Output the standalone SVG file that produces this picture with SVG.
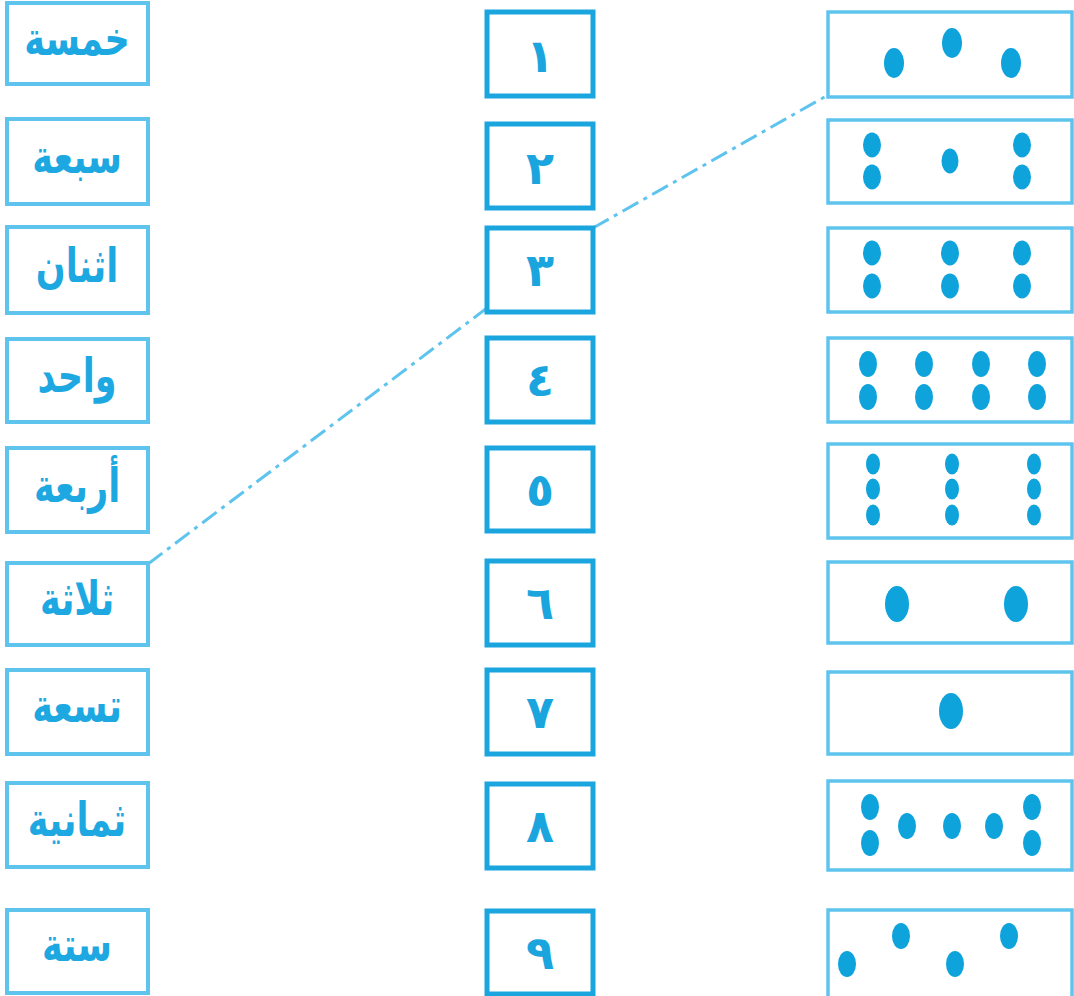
<svg xmlns="http://www.w3.org/2000/svg" width="1074" height="996" viewBox="0 0 1074 996">
<style>
.lb{fill:#fff;stroke:#5ec4ee;stroke-width:4}
.mb{fill:#fff;stroke:#1ba5de;stroke-width:5}
.rb{fill:#fff;stroke:#5ec4ee;stroke-width:3.5}
.w{font-family:"DejaVu Sans",sans-serif;font-weight:bold;font-size:35px;fill:#1ea8e2;text-anchor:middle;dominant-baseline:central}
.n{font-family:"DejaVu Sans",sans-serif;font-weight:bold;font-size:46px;fill:#1ba5de;text-anchor:middle;dominant-baseline:central}
.d{fill:#0fa3dc}
.c{fill:none;stroke:#5ec4ee;stroke-width:3;stroke-dasharray:18 6 4 6}
</style>
<rect width="1074" height="996" fill="#fff"/>
<g id="connectors">
<line class="c" x1="593" y1="228" x2="828" y2="95"/>
<line class="c" x1="148" y1="564" x2="487" y2="308"/>
</g>
<g id="w1"><rect class="lb" x="7" y="3" width="141" height="81"/><text class="w" transform="translate(77,39) scale(1,1.35)">خمسة</text></g>
<g id="w2"><rect class="lb" x="7" y="119" width="141" height="85"/><text class="w" transform="translate(77,157) scale(1,1.35)">سبعة</text></g>
<g id="w3"><rect class="lb" x="7" y="227" width="141" height="86"/><text class="w" transform="translate(77,266) scale(1,1.35)">اثنان</text></g>
<g id="w4"><rect class="lb" x="7" y="339" width="141" height="83"/><text class="w" transform="translate(77,376) scale(1,1.35)">واحد</text></g>
<g id="w5"><rect class="lb" x="7" y="448" width="141" height="84"/><text class="w" transform="translate(77,486) scale(1,1.35)">أربعة</text></g>
<g id="w6"><rect class="lb" x="7" y="563" width="141" height="82"/><text class="w" transform="translate(77,599) scale(1,1.35)">ثلاثة</text></g>
<g id="w7"><rect class="lb" x="7" y="670" width="141" height="84"/><text class="w" transform="translate(77,706) scale(1,1.35)">تسعة</text></g>
<g id="w8"><rect class="lb" x="7" y="783" width="141" height="84"/><text class="w" transform="translate(77,820) scale(1,1.35)">ثمانية</text></g>
<g id="w9"><rect class="lb" x="7" y="910" width="141" height="83"/><text class="w" transform="translate(77,945) scale(1,1.35)">ستة</text></g>

<g id="n1"><rect class="mb" x="487" y="12" width="106" height="84"/><text class="n" x="540" y="56">١</text></g>
<g id="n2"><rect class="mb" x="487" y="124" width="106" height="84"/><text class="n" x="540" y="168">٢</text></g>
<g id="n3"><rect class="mb" x="487" y="228" width="106" height="84"/><text class="n" x="540" y="270">٣</text></g>
<g id="n4"><rect class="mb" x="487" y="338" width="106" height="84"/><text class="n" x="540" y="380">٤</text></g>
<g id="n5"><rect class="mb" x="487" y="448" width="106" height="83"/><text class="n" x="540" y="490">٥</text></g>
<g id="n6"><rect class="mb" x="487" y="561" width="106" height="84"/><text class="n" x="540" y="603">٦</text></g>
<g id="n7"><rect class="mb" x="487" y="670" width="106" height="84"/><text class="n" x="540" y="712">٧</text></g>
<g id="n8"><rect class="mb" x="487" y="784" width="106" height="84"/><text class="n" x="540" y="826">٨</text></g>
<g id="n9"><rect class="mb" x="487" y="911" width="106" height="83"/><text class="n" x="540" y="953">٩</text></g>

<g id="d1"><rect class="rb" x="828" y="12" width="244" height="85"/>
<ellipse class="d" cx="894" cy="63" rx="10" ry="15"/><ellipse class="d" cx="952" cy="43" rx="10" ry="15"/><ellipse class="d" cx="1011" cy="63" rx="10" ry="15"/></g>
<g id="d2"><rect class="rb" x="828" y="120" width="244" height="83"/>
<ellipse class="d" cx="872" cy="145" rx="9" ry="12.5"/><ellipse class="d" cx="872" cy="177" rx="9" ry="12.5"/>
<ellipse class="d" cx="950" cy="161" rx="8.5" ry="12.5"/>
<ellipse class="d" cx="1022" cy="145" rx="9" ry="12.5"/><ellipse class="d" cx="1022" cy="177" rx="9" ry="12.5"/></g>
<g id="d3"><rect class="rb" x="828" y="228" width="244" height="84"/>
<ellipse class="d" cx="872" cy="253" rx="9" ry="12.5"/><ellipse class="d" cx="872" cy="286" rx="9" ry="12.5"/>
<ellipse class="d" cx="950" cy="253" rx="9" ry="12.5"/><ellipse class="d" cx="950" cy="286" rx="9" ry="12.5"/>
<ellipse class="d" cx="1022" cy="253" rx="9" ry="12.5"/><ellipse class="d" cx="1022" cy="286" rx="9" ry="12.5"/></g>
<g id="d4"><rect class="rb" x="828" y="338" width="244" height="84"/>
<ellipse class="d" cx="868" cy="364" rx="9" ry="13"/><ellipse class="d" cx="868" cy="397" rx="9" ry="13"/>
<ellipse class="d" cx="924" cy="364" rx="9" ry="13"/><ellipse class="d" cx="924" cy="397" rx="9" ry="13"/>
<ellipse class="d" cx="981" cy="364" rx="9" ry="13"/><ellipse class="d" cx="981" cy="397" rx="9" ry="13"/>
<ellipse class="d" cx="1037" cy="364" rx="9" ry="13"/><ellipse class="d" cx="1037" cy="397" rx="9" ry="13"/></g>
<g id="d5"><rect class="rb" x="828" y="444" width="244" height="94"/>
<ellipse class="d" cx="873" cy="464" rx="7" ry="10.5"/><ellipse class="d" cx="873" cy="489" rx="7" ry="10.5"/><ellipse class="d" cx="873" cy="515" rx="7" ry="10.5"/>
<ellipse class="d" cx="952" cy="464" rx="7" ry="10.5"/><ellipse class="d" cx="952" cy="489" rx="7" ry="10.5"/><ellipse class="d" cx="952" cy="515" rx="7" ry="10.5"/>
<ellipse class="d" cx="1034" cy="464" rx="7" ry="10.5"/><ellipse class="d" cx="1034" cy="489" rx="7" ry="10.5"/><ellipse class="d" cx="1034" cy="515" rx="7" ry="10.5"/></g>
<g id="d6"><rect class="rb" x="828" y="562" width="244" height="81"/>
<ellipse class="d" cx="897" cy="604" rx="12" ry="18"/><ellipse class="d" cx="1016" cy="604" rx="12" ry="18"/></g>
<g id="d7"><rect class="rb" x="828" y="672" width="244" height="82"/>
<ellipse class="d" cx="951" cy="711" rx="12" ry="18"/></g>
<g id="d8"><rect class="rb" x="828" y="781" width="244" height="89"/>
<ellipse class="d" cx="870" cy="807" rx="9" ry="13"/><ellipse class="d" cx="870" cy="843" rx="9" ry="13"/>
<ellipse class="d" cx="907" cy="826" rx="9" ry="13"/><ellipse class="d" cx="952" cy="826" rx="9" ry="13"/><ellipse class="d" cx="994" cy="826" rx="9" ry="13"/>
<ellipse class="d" cx="1032" cy="807" rx="9" ry="13"/><ellipse class="d" cx="1032" cy="843" rx="9" ry="13"/></g>
<g id="d9"><rect class="rb" x="828" y="910" width="244" height="88"/>
<ellipse class="d" cx="847" cy="964" rx="9" ry="13"/><ellipse class="d" cx="901" cy="936" rx="9" ry="13"/>
<ellipse class="d" cx="955" cy="964" rx="9" ry="13"/><ellipse class="d" cx="1009" cy="936" rx="9" ry="13"/></g>
</svg>
